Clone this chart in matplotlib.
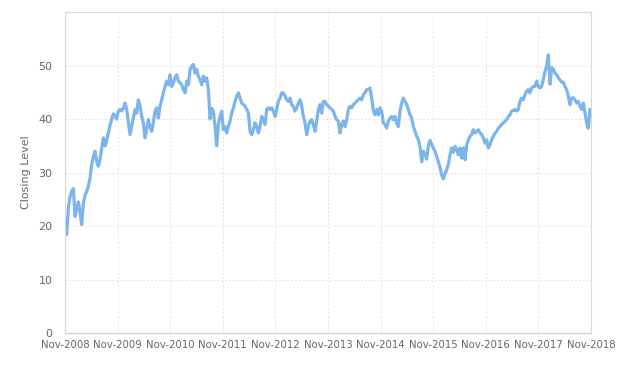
import matplotlib
matplotlib.use("Agg")
import matplotlib.pyplot as plt
import matplotlib.dates as mdates
import pandas as pd

# closing levels, roughly every 11-12 days
closing = [
    18.5, 23.5, 25.5, 26.5, 27.0, 21.8, 23.4, 24.5, 22.5, 20.3,
    24.3, 25.8, 26.5, 27.5, 29.0, 31.5, 33.0, 34.0, 32.0, 31.2,
    32.5, 34.5, 36.5, 35.0, 36.0, 37.5, 38.8, 40.0, 41.0, 40.5,
    40.0, 41.5, 41.8, 41.5, 42.0, 43.0,
    41.8, 39.3, 37.1, 38.6, 40.2, 41.8, 41.1, 43.6, 42.4, 40.5,
    39.3, 36.5, 38.1, 39.9, 38.6, 37.7, 39.3, 41.5, 42.1, 40.2,
    42.4, 43.6, 44.9, 46.1, 47.1, 46.4, 48.3, 46.1, 46.8, 47.7,
    48.3, 47.1, 46.8, 46.4, 45.5, 44.9, 47.1, 46.4, 49.3,
    49.9, 50.2, 48.6, 49.3, 48.0, 47.4, 46.4, 48.0, 47.1, 47.7,
    45.5, 40.0, 42.0, 41.5, 38.6, 35.0, 39.0, 40.5, 41.5, 38.0,
    38.6, 37.4, 38.6, 39.6, 41.1, 42.1, 43.3, 44.3, 44.9, 43.9,
    43.0, 42.7, 42.4, 41.8, 41.1, 37.7, 37.1, 38.0, 39.3,
    38.6, 37.4, 38.6, 40.5, 40.0, 39.0, 41.8, 42.1, 41.8, 42.1,
    41.5, 40.5, 41.8, 43.3, 43.9, 44.9, 44.9, 44.3, 43.6, 43.3,
    43.9, 42.7, 42.4, 41.5, 42.1, 43.0, 43.6, 42.4, 40.5, 39.3,
    37.1, 38.6, 39.6, 39.9, 39.0, 37.7, 39.6, 41.8, 42.7,
    41.1, 43.3, 43.3, 42.7, 42.4, 42.1, 41.8, 41.5, 40.5, 39.9,
    39.6, 37.4, 39.0, 39.6, 38.6, 39.9, 41.8, 42.4, 42.1, 42.7,
    43.0, 43.3, 43.6, 43.9, 43.6, 44.6, 44.9, 45.5, 45.5, 45.8,
    43.9, 41.5, 40.8, 41.8, 40.8, 42.1, 41.5, 39.3, 39.0,
    38.3, 39.6, 40.2, 40.5, 39.9, 40.5, 39.3, 38.6, 41.5, 43.0,
    43.9, 43.3, 42.7, 41.8, 40.8, 40.2, 38.6, 37.7, 36.8, 36.1,
    34.9, 32.0, 34.0, 33.5, 32.5, 35.0, 36.0, 35.3, 34.5, 34.0,
    33.0, 32.0, 31.0, 29.5, 28.8, 29.8, 30.5, 31.5, 33.3,
    34.6, 33.8, 34.9, 34.3, 33.3, 34.6, 32.7, 34.6, 32.4, 35.2,
    36.1, 36.8, 37.1, 38.0, 37.4, 37.7, 38.0, 37.4, 37.1, 36.5,
    35.5, 36.1, 34.6, 35.2, 36.1, 36.8, 37.4, 37.7, 38.3, 38.6,
    39.0, 39.3, 39.6, 39.9, 40.5, 40.8, 41.5, 41.6, 41.8,
    41.5, 41.8, 43.3, 43.9, 43.6, 44.6, 45.2, 45.5, 44.9, 45.8,
    46.1, 46.1, 47.1, 46.1, 45.8, 46.1, 47.4, 48.9, 49.9, 52.0,
    46.5, 49.6, 49.3, 48.6, 48.3, 47.7, 47.3, 46.9, 46.9, 46.1,
    45.5, 44.3, 42.7, 43.9, 44.0, 43.6, 43.0, 43.3, 42.4, 41.8,
    43.0, 41.1, 39.3, 38.3, 41.8,
]
dates = pd.date_range("2008-11-13", "2018-10-25", periods=len(closing))

tick_years = list(range(2008, 2019))
y_ticks = [0, 10, 20, 30, 40, 50]

grid_col = "#e3e3e3"
frame_col = "#ccd6eb"
text_col = "#666666"

fig = plt.figure(figsize=(6.31, 3.66), dpi=100)
ax = fig.add_axes([0.103, 0.090, 0.8336, 0.877])

ax.plot(dates, closing, color="#7cb5ec", lw=2.3, solid_joinstyle="round")

ax.set_xlim(pd.Timestamp("2008-11-01"), pd.Timestamp("2018-11-01"))
ax.set_ylim(0, 60)

ax.set_xticks([pd.Timestamp(f"{y}-11-01") for y in tick_years])
ax.xaxis.set_major_formatter(mdates.DateFormatter("%b-%Y"))
ax.set_yticks(y_ticks)

ax.grid(True, color=grid_col, linestyle=(0, (2, 2)), linewidth=0.7)
ax.set_axisbelow(True)

for side in ["left", "right", "top"]:
    ax.spines[side].set_color("#d8d8d8")
    ax.spines[side].set_linewidth(0.8)
ax.spines["bottom"].set_color(frame_col)
ax.spines["bottom"].set_linewidth(1.0)

ax.tick_params(axis="x", length=0, pad=5, labelsize=7.3, labelcolor=text_col)
ax.tick_params(axis="y", length=0, pad=9, labelsize=8, labelcolor=text_col)
ax.set_ylabel("Closing Level", fontsize=8, color=text_col, labelpad=5)

fig.savefig("out.png", dpi=100)
